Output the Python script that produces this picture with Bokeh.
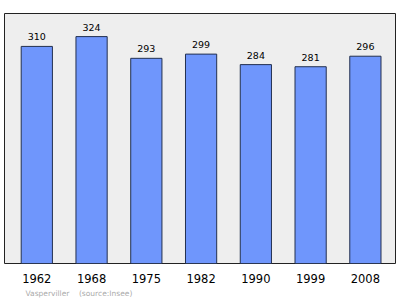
from bokeh.plotting import figure
from bokeh.models import ColumnDataSource, Range1d, FixedTicker, Title
from bokeh.core.properties import value
from bokeh.embed import file_html
from bokeh.resources import INLINE

years = ["1962", "1968", "1975", "1982", "1990", "1999", "2008"]
population = [310, 324, 293, 299, 284, 281, 296]
source_note = "Vasperviller\u00a0\u00a0\u00a0\u00a0(source:Insee)"

idx = list(range(len(years)))
src = ColumnDataSource(dict(x=idx, y=population, lab=[str(v) for v in population]))

p = figure(width=400, height=299, output_backend="svg", toolbar_location=None,
           x_range=Range1d(-0.59, 6.55), y_range=Range1d(0, 357),
           min_border_left=4, min_border_right=5, min_border_top=13, min_border_bottom=0)
p.background_fill_color = "#eeeeee"
p.border_fill_color = "white"
p.outline_line_color = "#222222"
p.outline_line_width = 1
p.grid.visible = False

p.vbar(x="x", top="y", bottom=0, width=0.57, source=src,
       fill_color="#6f96fc", line_color="#23304f", line_width=1)
p.text(x="x", y="y", text="lab", source=src, text_align="center", text_baseline="bottom",
       y_offset=-6, text_font=value("DejaVu Sans"), text_font_size="9.5px", text_color="black")

p.yaxis.visible = False
xa = p.xaxis[0]
xa.ticker = FixedTicker(ticks=idx)
xa.major_label_overrides = {i: y for i, y in zip(idx, years)}
xa.axis_line_color = None
xa.major_tick_line_color = None
xa.minor_tick_line_color = None
xa.major_label_standoff = 4
xa.major_label_text_font = "DejaVu Sans"
xa.major_label_text_font_size = "11.5px"
xa.major_label_text_color = "black"

t = Title(text=source_note, align="left", offset=21, text_font="DejaVu Sans",
          text_font_size="7.5px", text_color="#aaaaaa", text_font_style="normal",
          standoff=3)
p.add_layout(t, "below")

open("out.html", "w").write(file_html(p, INLINE))
